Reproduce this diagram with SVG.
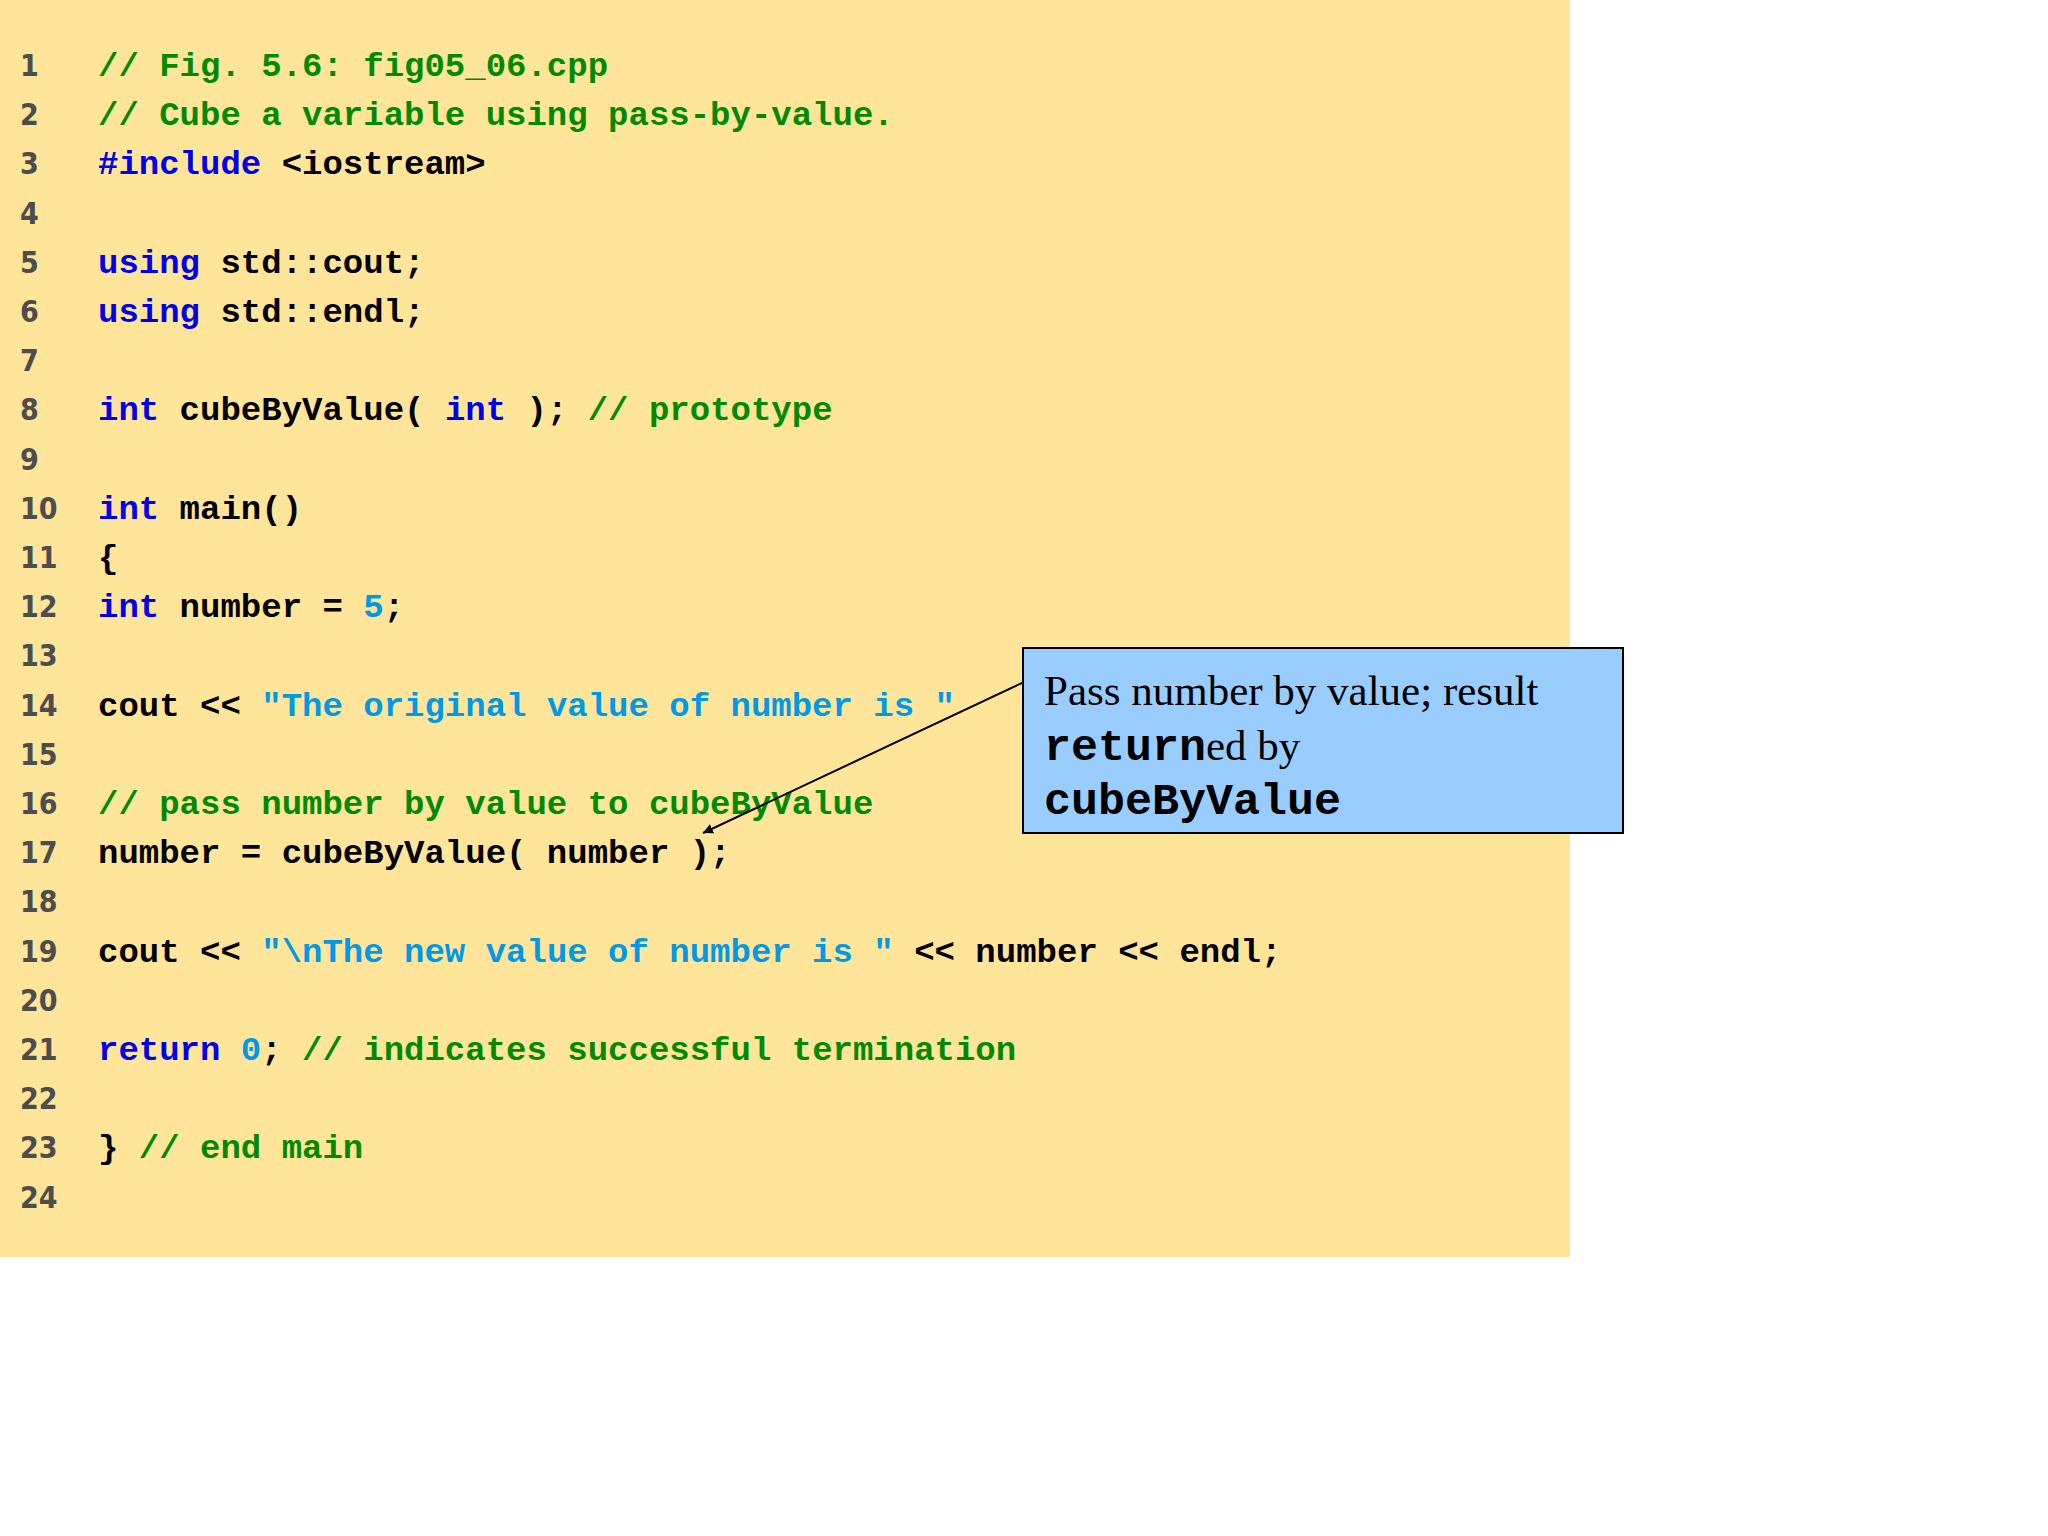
<svg xmlns="http://www.w3.org/2000/svg" width="2048" height="1536" viewBox="0 0 2048 1536">
<style>
.code{font-family:"Liberation Mono","Courier New",monospace;font-weight:bold;font-size:34px;fill:#000}
.ln{font-family:"DejaVu Sans Condensed","DejaVu Sans",sans-serif;font-weight:bold;font-size:30px;fill:#4d4d4d}
.c{fill:#008a00}.k{fill:#0000e6}.s{fill:#0099e6}
.note{font-family:"Liberation Serif","Times New Roman",serif;font-size:43px;fill:#000}
.nm{font-family:"Liberation Mono","Courier New",monospace;font-weight:bold;font-size:45px}
</style>
<defs><marker id="ah" viewBox="0 0 10 10" refX="10" refY="5" markerWidth="10" markerHeight="10" markerUnits="userSpaceOnUse" orient="auto"><path d="M0,0L10,5L0,10z" fill="#000"/></marker></defs>
<rect x="0" y="0" width="1570" height="1257" fill="#ffe599"/>
<g id="lines" xml:space="preserve">
<text class="ln" x="20" y="76">1</text>
<text class="ln" x="20" y="125">2</text>
<text class="ln" x="20" y="174">3</text>
<text class="ln" x="20" y="224">4</text>
<text class="ln" x="20" y="273">5</text>
<text class="ln" x="20" y="322">6</text>
<text class="ln" x="20" y="371">7</text>
<text class="ln" x="20" y="420">8</text>
<text class="ln" x="20" y="470">9</text>
<text class="ln" x="20" y="519">10</text>
<text class="ln" x="20" y="568">11</text>
<text class="ln" x="20" y="617">12</text>
<text class="ln" x="20" y="666">13</text>
<text class="ln" x="20" y="716">14</text>
<text class="ln" x="20" y="765">15</text>
<text class="ln" x="20" y="814">16</text>
<text class="ln" x="20" y="863">17</text>
<text class="ln" x="20" y="912">18</text>
<text class="ln" x="20" y="962">19</text>
<text class="ln" x="20" y="1011">20</text>
<text class="ln" x="20" y="1060">21</text>
<text class="ln" x="20" y="1109">22</text>
<text class="ln" x="20" y="1158">23</text>
<text class="ln" x="20" y="1208">24</text>
<text class="code c" x="98" y="76">// Fig. 5.6: fig05_06.cpp</text>
<text class="code c" x="98" y="125">// Cube a variable using pass-by-value.</text>
<text class="code" x="98" y="174"><tspan class="k">#include</tspan> &lt;iostream&gt;</text>
<text class="code" x="98" y="273"><tspan class="k">using</tspan> std::cout;</text>
<text class="code" x="98" y="322"><tspan class="k">using</tspan> std::endl;</text>
<text class="code" x="98" y="420"><tspan class="k">int</tspan> cubeByValue( <tspan class="k">int</tspan> );   <tspan class="c">// prototype</tspan></text>
<text class="code" x="98" y="519"><tspan class="k">int</tspan> main()</text>
<text class="code" x="98" y="568">{</text>
<text class="code" x="98" y="617">   <tspan class="k">int</tspan> number = <tspan class="s">5</tspan>;</text>
<text class="code" x="98" y="716">   cout &lt;&lt; <tspan class="s">"The original value of number is "</tspan></text>
<text class="code c" x="98" y="814">   // pass number by value to cubeByValue</text>
<text class="code" x="98" y="863">   number = cubeByValue( number );</text>
<text class="code" x="98" y="962">   cout &lt;&lt; <tspan class="s">"\nThe new value of number is "</tspan> &lt;&lt; number &lt;&lt; endl;</text>
<text class="code" x="98" y="1060">   <tspan class="k">return</tspan> <tspan class="s">0</tspan>;  <tspan class="c">// indicates successful termination</tspan></text>
<text class="code" x="98" y="1158">} <tspan class="c">// end main</tspan></text>
</g>
<g id="connectors"><line x1="1024" y1="682" x2="703" y2="833" stroke="#000" stroke-width="2" marker-end="url(#ah)"/></g>
<g id="callout">
<rect x="1023" y="648" width="600" height="185" fill="#99ccff" stroke="#000" stroke-width="2"/>
<text class="note" x="1044" y="705">Pass number by value; result</text>
<text class="note" x="1044" y="760"><tspan class="nm">return</tspan>ed by</text>
<text class="note" x="1044" y="814"><tspan class="nm">cubeByValue</tspan></text>
</g>
</svg>
